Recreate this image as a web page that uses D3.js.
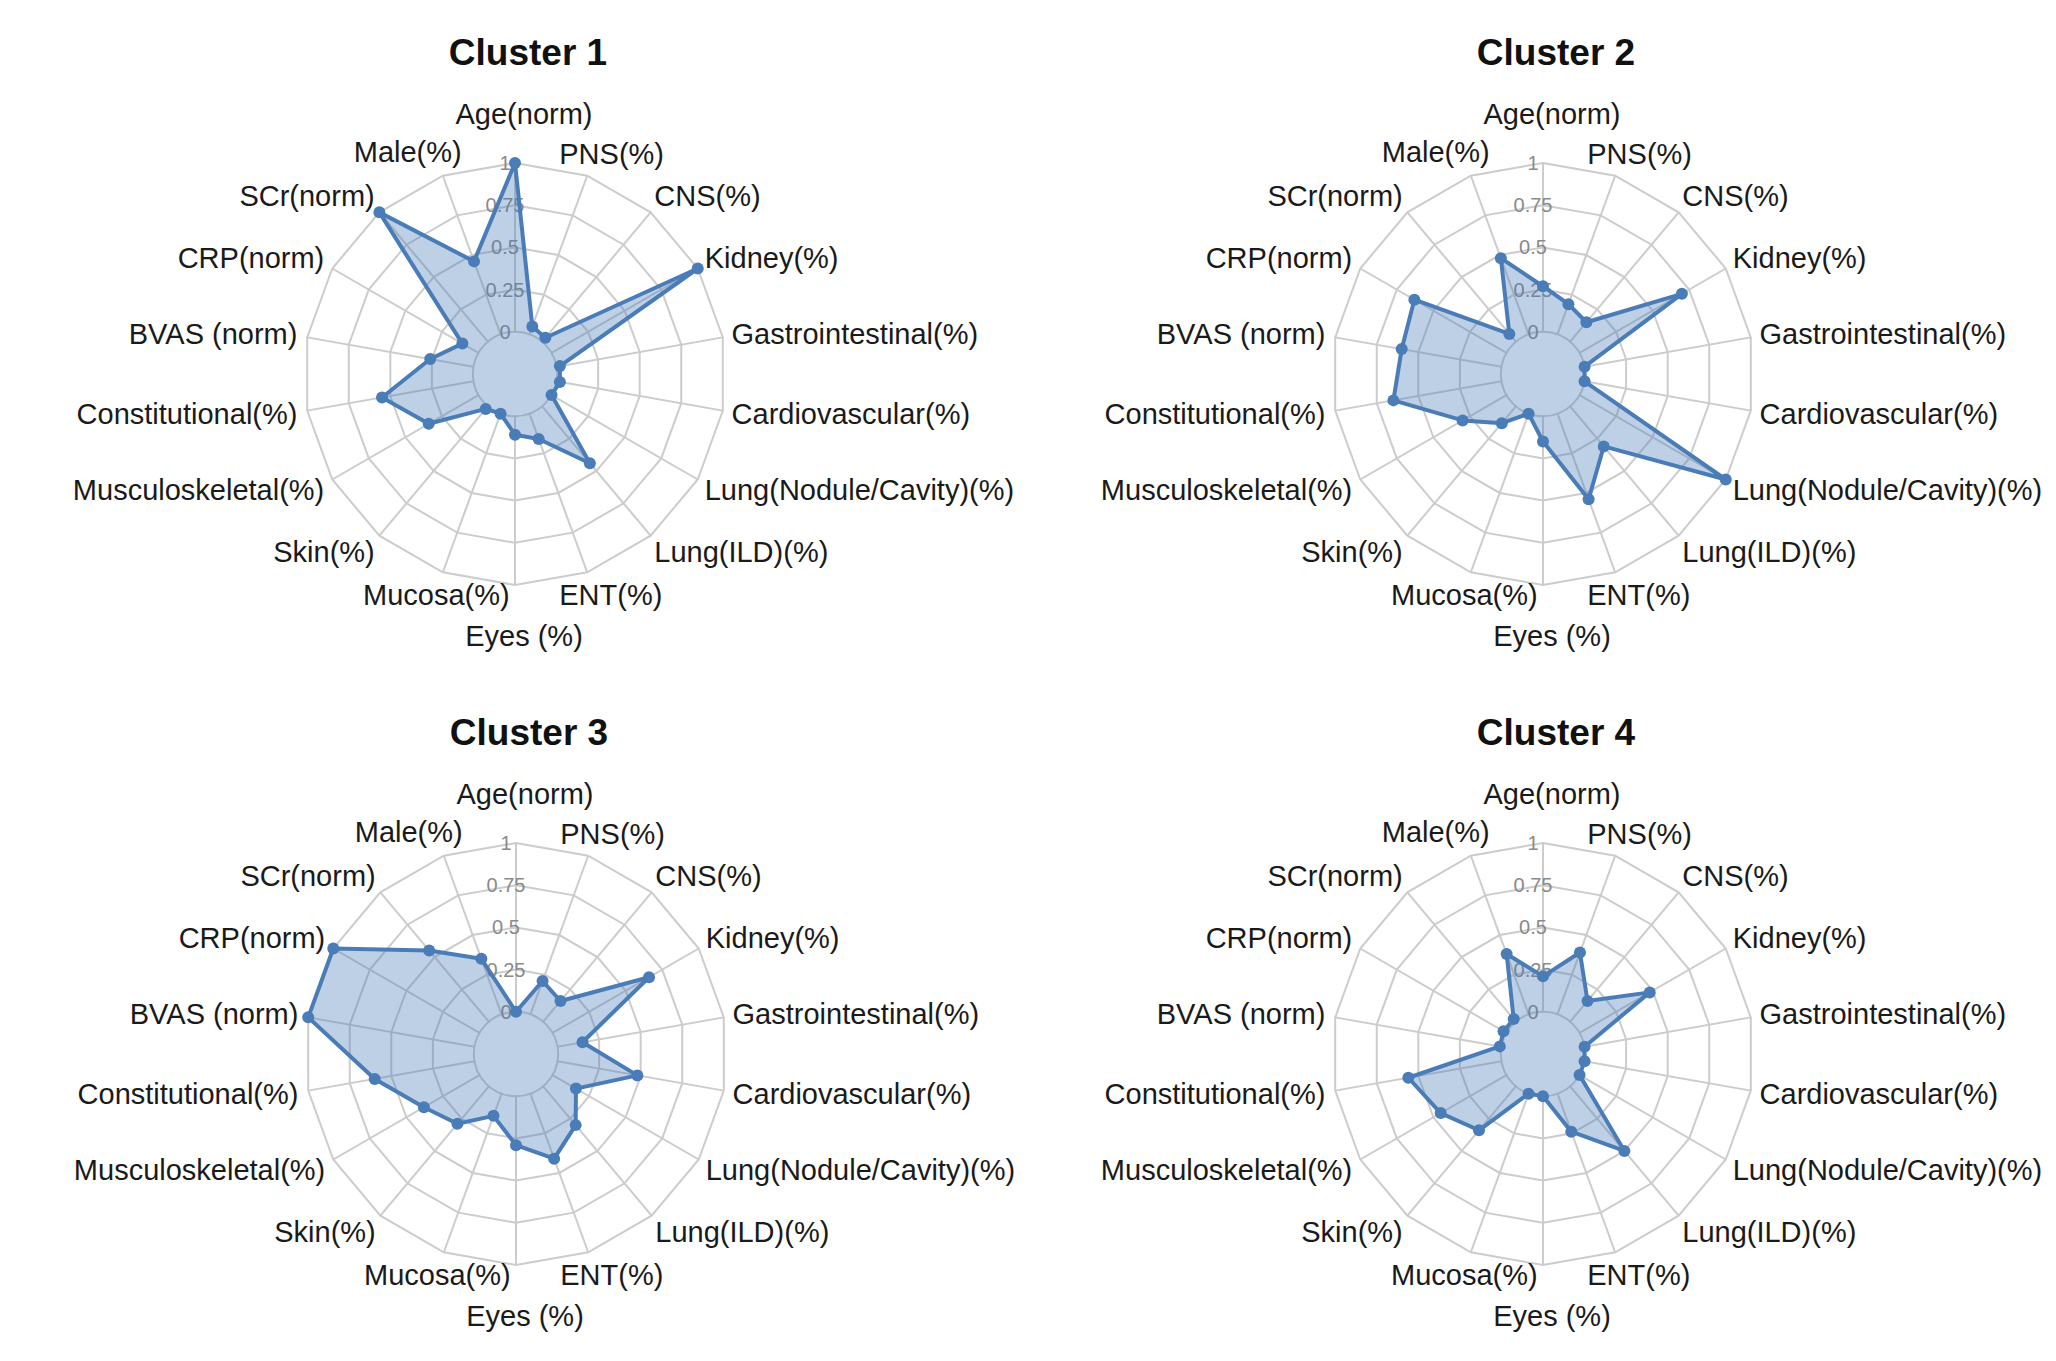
<!DOCTYPE html>
<html>
<head>
<meta charset="utf-8">
<script src="https://cdn.jsdelivr.net/npm/d3@7"></script>
<style>
  body { margin: 0; background: #fff; }
  svg { display: block; font-family: "Liberation Sans", Arial, sans-serif; }
</style>
</head>
<body>
<div class="chart"></div>
<script>
// axis labels, clockwise from the top
const axisLabels = [
  "Age(norm)", "PNS(%)", "CNS(%)", "Kidney(%)", "Gastrointestinal(%)",
  "Cardiovascular(%)", "Lung(Nodule/Cavity)(%)", "Lung(ILD)(%)", "ENT(%)",
  "Eyes (%)", "Mucosa(%)", "Skin(%)", "Musculoskeletal(%)", "Constitutional(%)",
  "BVAS (norm)", "CRP(norm)", "SCr(norm)", "Male(%)"
];

const clusterNames = ["Cluster 1", "Cluster 2", "Cluster 3", "Cluster 4"];

const cluster1 = [1.0, 0.05, 0.03, 1.0, 0.02, 0.02, 0.0, 0.44, 0.16, 0.11, 0.0, 0.02, 0.34, 0.55, 0.26, 0.11, 1.0, 0.46];
const cluster2 = [0.27, 0.19, 0.15, 0.70, 0.0, 0.0, 1.0, 0.31, 0.54, 0.15, 0.0, 0.13, 0.30, 0.65, 0.60, 0.63, 0.06, 0.48];
const cluster3 = [0.0, 0.21, 0.16, 0.66, 0.15, 0.48, 0.16, 0.30, 0.41, 0.29, 0.14, 0.29, 0.38, 0.60, 1.0, 1.0, 0.55, 0.35];
const cluster4 = [0.21, 0.39, 0.16, 0.48, 0.0, 0.0, 0.0, 0.50, 0.24, 0.0, 0.0, 0.34, 0.45, 0.56, 0.01, 0.02, 0.02, 0.38];

const tickValues = [0, 0.25, 0.5, 0.75, 1];
const tickLabels = ["0", "0.25", "0.5", "0.75", "1"];

const width = 2056, height = 1361;
const R = 211;
const lineColor = "#4a7db7";
const gridColor = "#cccccc";

const svg = d3.select(".chart")
  .append("svg")
    .attr("width", width)
    .attr("height", height);

const r = d3.scaleLinear().domain([0, 1]).range([R / 5, R]);
const angle = d3.scaleLinear().domain([0, axisLabels.length]).range([0, 2 * Math.PI]);

// chart centres on the page
const panels = [
  {name: clusterNames[0], values: cluster1, cx: 515, cy: 374},
  {name: clusterNames[1], values: cluster2, cx: 1543, cy: 374},
  {name: clusterNames[2], values: cluster3, cx: 516, cy: 1054},
  {name: clusterNames[3], values: cluster4, cx: 1543, cy: 1054}
];

function labelPlacement(i) {
  const deg = i * 360 / axisLabels.length;
  const a = angle(i);
  const b = R + 15;
  let x = b * Math.sin(a), y = -b * Math.cos(a);
  let anchor;
  if (deg === 0 || deg === 180) {
    anchor = "middle";
    x += 9;
    y += deg === 0 ? -34 : 36;
  } else if (deg === 20 || deg === 160) {
    anchor = "start";
    x -= 33;
    y += deg === 20 ? -8 : 8;
  } else if (deg === 200 || deg === 340) {
    anchor = "end";
    x += deg === 200 ? 72 : 24;
    y += deg === 200 ? 8 : -10;
  } else if (deg < 180) {
    anchor = "start";
    x -= 6;
    y += -6 * Math.cos(a);
  } else {
    anchor = "end";
    x += 5;
    y += -6 * Math.cos(a);
  }
  return {x, y, anchor};
}

panels.forEach(p => drawRadar(p));

function drawRadar(p) {
  const g = svg.append("g")
    .attr("transform", "translate(" + p.cx + "," + p.cy + ")");

  const idx = d3.range(axisLabels.length);

  // grid rings (polygons), inner hole is round
  tickValues.slice(1).forEach(t => {
    g.append("path")
      .attr("d", d3.lineRadial()
        .angle(i => angle(i))
        .radius(() => r(t))
        .curve(d3.curveLinearClosed)(idx))
      .attr("fill", "none")
      .attr("stroke", gridColor)
      .attr("stroke-width", 2);
  });
  g.append("circle")
    .attr("r", r(0))
    .attr("fill", "none")
    .attr("stroke", gridColor)
    .attr("stroke-width", 2);

  // spokes
  g.selectAll(".spoke")
    .data(idx)
    .join("line")
      .attr("class", "spoke")
      .attr("x1", i => r(0) * Math.sin(angle(i)))
      .attr("y1", i => -r(0) * Math.cos(angle(i)))
      .attr("x2", i => r(1) * Math.sin(angle(i)))
      .attr("y2", i => -r(1) * Math.cos(angle(i)))
      .attr("stroke", gridColor)
      .attr("stroke-width", 2);

  // radial tick labels on the first axis
  g.selectAll(".tick")
    .data(tickValues)
    .join("text")
      .attr("class", "tick")
      .attr("x", -10)
      .attr("y", d => -r(d))
      .attr("dy", "0.35em")
      .attr("text-anchor", "middle")
      .attr("fill", "#8a8a8a")
      .style("font-size", "20px")
      .text((d, i) => tickLabels[i]);

  // series
  const radial = d3.lineRadial()
    .angle((d, i) => angle(i))
    .radius(d => r(d))
    .curve(d3.curveLinearClosed);

  g.append("path")
    .attr("d", radial(p.values))
    .attr("fill", lineColor)
    .attr("fill-opacity", 0.36)
    .attr("stroke", lineColor)
    .attr("stroke-width", 4)
    .attr("stroke-linejoin", "round");

  g.selectAll(".dot")
    .data(p.values)
    .join("circle")
      .attr("class", "dot")
      .attr("cx", (d, i) => r(d) * Math.sin(angle(i)))
      .attr("cy", (d, i) => -r(d) * Math.cos(angle(i)))
      .attr("r", 6)
      .attr("fill", lineColor);

  // axis labels
  g.selectAll(".axis-label")
    .data(axisLabels)
    .join("text")
      .attr("class", "axis-label")
      .each(function(d, i) {
        const pl = labelPlacement(i);
        d3.select(this)
          .attr("x", pl.x)
          .attr("y", pl.y)
          .attr("text-anchor", pl.anchor);
      })
      .attr("dy", "0.35em")
      .attr("fill", "#1a1a1a")
      .style("font-size", "29px")
      .text(d => d);

  // title
  g.append("text")
    .attr("x", 13)
    .attr("y", -322)
    .attr("dy", "0.35em")
    .attr("text-anchor", "middle")
    .attr("fill", "#111")
    .style("font-size", "37px")
    .style("font-weight", "bold")
    .text(p.name);
}
</script>
</body>
</html>
